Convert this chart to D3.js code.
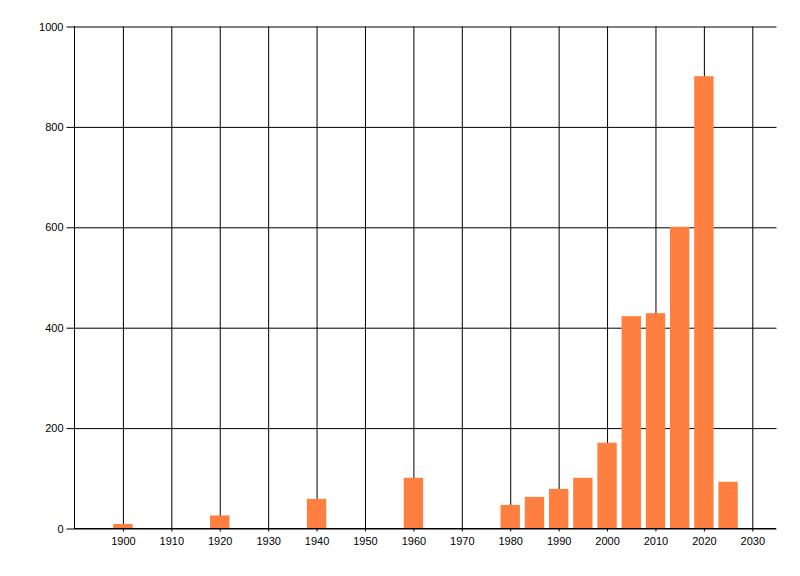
<!DOCTYPE html>
<html>
<head>
<meta charset="utf-8">
<script src="https://cdn.jsdelivr.net/npm/d3@7/dist/d3.min.js"></script>
<style>
  body { margin: 0; background: #fff; }
  svg { display: block; }
  text { font-family: "Liberation Sans", Arial, sans-serif; font-size: 11px; fill: #000; }
</style>
</head>
<body>
<svg id="chart" width="800" height="576"></svg>
<script>
const years = [1900, 1920, 1940, 1960, 1980, 1985, 1990, 1995, 2000, 2005, 2010, 2015, 2020, 2025];
const values = [8, 25, 58, 100, 46, 62, 78, 100, 170, 422, 428, 600, 900, 92];
const xTicks = [1900, 1910, 1920, 1930, 1940, 1950, 1960, 1970, 1980, 1990, 2000, 2010, 2020, 2030];
const yTicks = [0, 200, 400, 600, 800, 1000];

(function () {
const svg = d3.select("#chart");
const mL = 74, mR = 776, mT = 26, mB = 528;
const x = d3.scaleLinear().domain([1890, 2035]).range([mL, mR]);
const y = d3.scaleLinear().domain([0, 1000]).range([mB, mT]);
const barW = x(1894) - x(1890);

// vertical grid (x axis)
const xAxis = d3.axisBottom(x).tickValues(xTicks).tickFormat(d3.format("d"))
  .tickSize(-(mB - mT)).tickPadding(8);
const gx = svg.append("g").attr("transform", `translate(0.5,${mB + 0.5})`).call(xAxis);
gx.select(".domain").remove();
gx.selectAll(".tick line").attr("stroke", "#000").attr("y2", -(mB - mT)).attr("y1", 3);
gx.selectAll(".tick text").attr("y", 9);

// horizontal grid (y axis)
const yAxis = d3.axisLeft(y).tickValues(yTicks).tickFormat(d3.format("d"))
  .tickSize(-(mR - mL)).tickPadding(4);
const gy = svg.append("g").attr("transform", `translate(${mL + 0.5},0.5)`).call(yAxis);
gy.select(".domain").remove();
gy.selectAll(".tick line").attr("stroke", "#000").attr("x1", -8).attr("x2", mR - mL);
gy.selectAll(".tick text").attr("x", -11).attr("dy", "0.32em");

// left axis line
svg.append("line").attr("x1", mL + 0.5).attr("x2", mL + 0.5)
  .attr("y1", mT).attr("y2", mB + 1).attr("stroke", "#000");

// bars
svg.append("g").selectAll("rect").data(years).join("rect")
  .attr("x", d => x(d) - barW / 2 + 0.5)
  .attr("width", barW)
  .attr("y", (d, i) => y(values[i]))
  .attr("height", (d, i) => mB - y(values[i]))
  .attr("fill", "#ff7f40");

// bottom axis line over bars
svg.append("line").attr("x1", mL).attr("x2", mR)
  .attr("y1", mB + 0.5).attr("y2", mB + 0.5).attr("stroke", "#000");
})();
</script>
</body>
</html>
